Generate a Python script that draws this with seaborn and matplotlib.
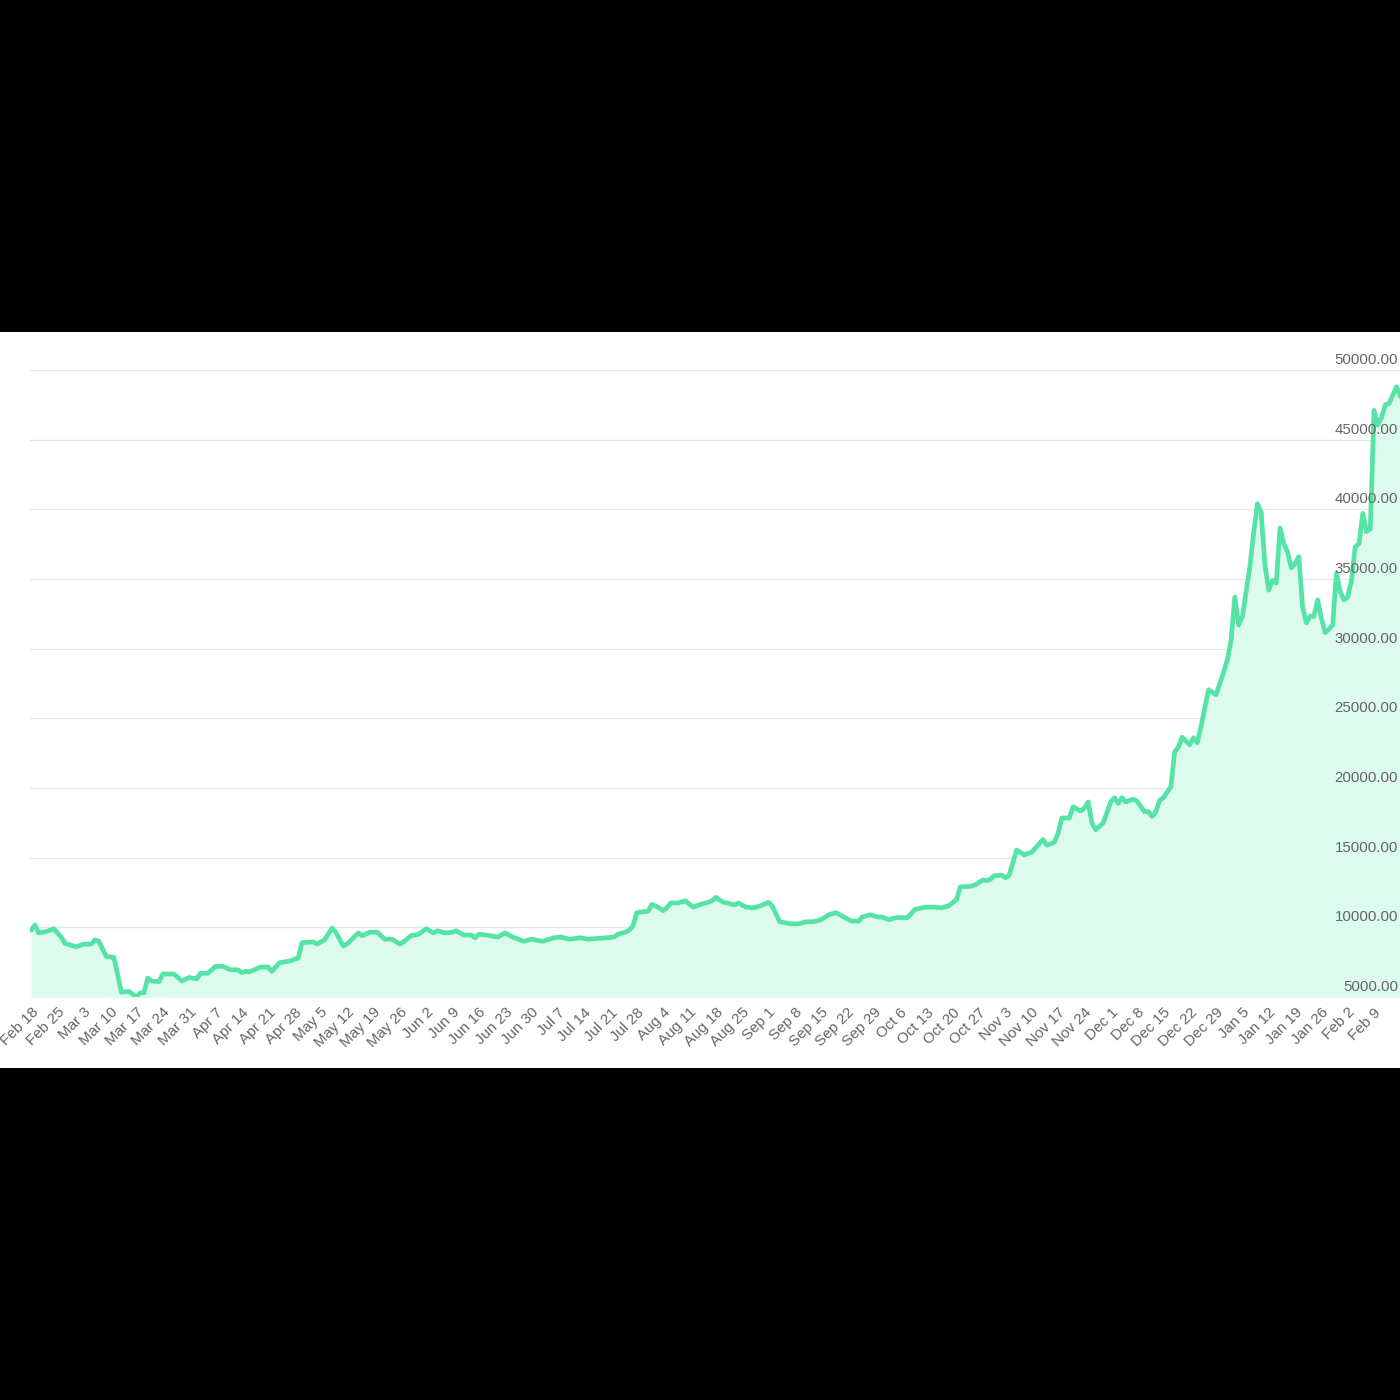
import matplotlib
matplotlib.use("Agg")
import matplotlib.pyplot as plt
import matplotlib.transforms as mtransforms
from matplotlib.patches import Rectangle
import seaborn as sns
import pandas as pd

# ---------------- data ----------------
start_date = "2020-02-19"          # date of day offset 0
first_tick = "2020-02-18"
day_offsets = [
    -1, 0, 1, 3, 5, 7, 8, 11, 13, 15, 16, 17, 19, 21, 23, 25, 27, 28, 29, 30,
    31, 33, 34, 37, 39, 41, 43, 44, 46, 48, 50, 52, 54, 55, 56, 57, 60, 62, 63, 65,
    68, 69, 70, 71, 74, 75, 77, 79, 80, 82, 83, 86, 87, 89, 91, 93, 95, 97, 98, 100,
    102, 104, 106, 107, 109, 111, 112, 114, 116, 117, 118, 120, 123, 125, 127, 130, 132, 135, 138, 140,
    142, 145, 147, 152, 154, 155, 157, 158, 159, 160, 161, 163, 164, 166, 167, 168, 169, 171, 173, 174,
    175, 177, 179, 180, 181, 183, 184, 186, 187, 189, 191, 193, 195, 196, 198, 201, 203, 205, 207, 209,
    211, 213, 215, 217, 219, 220, 222, 224, 225, 227, 229, 232, 234, 237, 239, 241, 243, 245, 246, 249,
    250, 252, 253, 254, 255, 257, 258, 259, 261, 263, 265, 268, 269, 271, 272, 273, 275, 276, 278, 279,
    280, 281, 282, 284, 286, 287, 288, 289, 290, 292, 293, 295, 296, 297, 298, 299, 300, 302, 303, 304,
    305, 307, 308, 309, 310, 312, 314, 316, 317, 318, 319, 320, 321, 323, 324, 325, 326, 327, 328, 329,
    330, 331, 332, 333, 334, 335, 336, 337, 338, 339, 340, 341, 342, 343, 344, 345, 346, 347, 348, 349,
    350, 351, 352, 353, 354, 355, 356, 357, 358, 359, 360, 361, 362, 363,
]
prices = [
    9800, 10170, 9600, 9700, 9900, 9300, 8850, 8600, 8800, 8800, 9100, 9000, 7900, 7850, 5350, 5400, 5000, 5300, 5300, 6350,
    6150, 6100, 6650, 6650, 6150, 6400, 6300, 6700, 6700, 7200, 7200, 6950, 6950, 6750, 6850, 6800, 7150, 7150, 6850, 7450,
    7600, 7700, 7800, 8900, 8950, 8800, 9100, 9950, 9650, 8650, 8800, 9600, 9400, 9650, 9650, 9150, 9150, 8800, 8950, 9400,
    9500, 9900, 9600, 9750, 9600, 9650, 9750, 9450, 9450, 9250, 9500, 9450, 9300, 9600, 9300, 9000, 9150, 9000, 9250, 9300,
    9150, 9250, 9150, 9250, 9300, 9500, 9650, 9800, 10100, 11050, 11100, 11150, 11650, 11400, 11200, 11400, 11750, 11750, 11900, 11650,
    11450, 11650, 11800, 11900, 12150, 11800, 11750, 11600, 11750, 11450, 11400, 11550, 11800, 11550, 10400, 10250, 10250, 10400, 10400, 10550,
    10900, 11050, 10750, 10450, 10450, 10750, 10900, 10750, 10750, 10550, 10700, 10700, 11300, 11450, 11450, 11400, 11550, 12000, 12900, 12950,
    13050, 13400, 13350, 13450, 13700, 13750, 13550, 13750, 15550, 15200, 15400, 16300, 15900, 16100, 16750, 17850, 17850, 18650, 18350, 18550,
    19000, 17500, 17000, 17500, 19000, 19300, 18900, 19300, 19000, 19200, 19050, 18300, 18300, 17950, 18300, 19100, 19300, 20100, 22600, 22950,
    23650, 23100, 23600, 23250, 24400, 27050, 26700, 28300, 29200, 30600, 33700, 31700, 32300, 35900, 38300, 40400, 39800, 36000, 34200, 34900,
    34700, 38650, 37550, 36950, 35800, 36100, 36600, 33000, 31850, 32350, 32300, 33500, 32200, 31150, 31400, 31700, 35400, 34100, 33500, 33700,
    34900, 37300, 37550, 39700, 38400, 38600, 47100, 46050, 46600, 47500, 47600, 48200, 48800, 48100,
]
y_ticks = [5000, 10000, 15000, 20000, 25000, 30000, 35000, 40000, 45000, 50000]
x_tick_labels = [
    "Feb 18", "Feb 25", "Mar 3", "Mar 10", "Mar 17", "Mar 24", "Mar 31", "Apr 7", "Apr 14", "Apr 21",
    "Apr 28", "May 5", "May 12", "May 19", "May 26", "Jun 2", "Jun 9", "Jun 16", "Jun 23", "Jun 30",
    "Jul 7", "Jul 14", "Jul 21", "Jul 28", "Aug 4", "Aug 11", "Aug 18", "Aug 25", "Sep 1", "Sep 8",
    "Sep 15", "Sep 22", "Sep 29", "Oct 6", "Oct 13", "Oct 20", "Oct 27", "Nov 3", "Nov 10", "Nov 17",
    "Nov 24", "Dec 1", "Dec 8", "Dec 15", "Dec 22", "Dec 29", "Jan 5", "Jan 12", "Jan 19", "Jan 26",
    "Feb 2", "Feb 9",
]

# ---------------- styling ----------------
LINE = "#55e4a6"
FILL = "#ddfaee"
GRID = "#e6e6e6"
TEXT = "#666666"

sns.set_style("white")
plt.rcParams["font.family"] = ["Liberation Sans", "DejaVu Sans"]

t0 = pd.Timestamp(start_date)
dates = t0 + pd.to_timedelta(day_offsets, unit="D")
df = pd.DataFrame({"date": dates, "price": prices})
tick_dates = pd.date_range(first_tick, periods=len(x_tick_labels), freq="7D")

W = H = 1400
fig = plt.figure(figsize=(14, 14), dpi=100, facecolor="black")
# white band behind the chart
fig.add_artist(Rectangle((0, (H - 1068) / H), 1, (1068 - 332) / H,
                         transform=fig.transFigure, facecolor="white",
                         edgecolor="none", zorder=0))

ax = fig.add_axes([30 / W, (H - 997) / H, 1370 / W, (997 - 370) / H])
ax.set_facecolor("none")

ax.fill_between(df["date"], df["price"], 0, color=FILL, linewidth=0, zorder=1)
sns.lineplot(data=df, x="date", y="price", ax=ax, color=LINE, linewidth=3.4,
             zorder=3)

ax.set_ylim(5000, 50000)
x_left = pd.Timestamp(first_tick) - pd.Timedelta(days=0.3)
ax.set_xlim(x_left, x_left + pd.Timedelta(days=364.2))

ax.set_yticks(y_ticks)
ax.grid(axis="y", color=GRID, linewidth=0.9, zorder=0)
ax.grid(axis="x", visible=False)
ax.set_axisbelow(True)
ax.tick_params(axis="y", left=False, right=False, labelleft=False, labelright=False)
for s in ax.spines.values():
    s.set_visible(False)

ax.set_xlabel("")
ax.set_ylabel("")

ax.set_xticks(tick_dates)
ax.set_xticklabels(x_tick_labels, rotation=45, ha="right", va="top",
                   rotation_mode="anchor", color=TEXT, fontsize=10.9)
ax.tick_params(axis="x", length=0, pad=6)

# y labels: inside the plot, right-aligned, just above each grid line
ytrans = mtransforms.blended_transform_factory(ax.transAxes, ax.transData)
ytrans = mtransforms.offset_copy(ytrans, fig=fig, x=-2, y=3, units="dots")
for v in y_ticks:
    ax.text(1.0, v, f"{v:.2f}", transform=ytrans, ha="right", va="bottom",
            color=TEXT, fontsize=10.8, zorder=5, clip_on=False)

fig.savefig("out.png", dpi=100, facecolor="black")
